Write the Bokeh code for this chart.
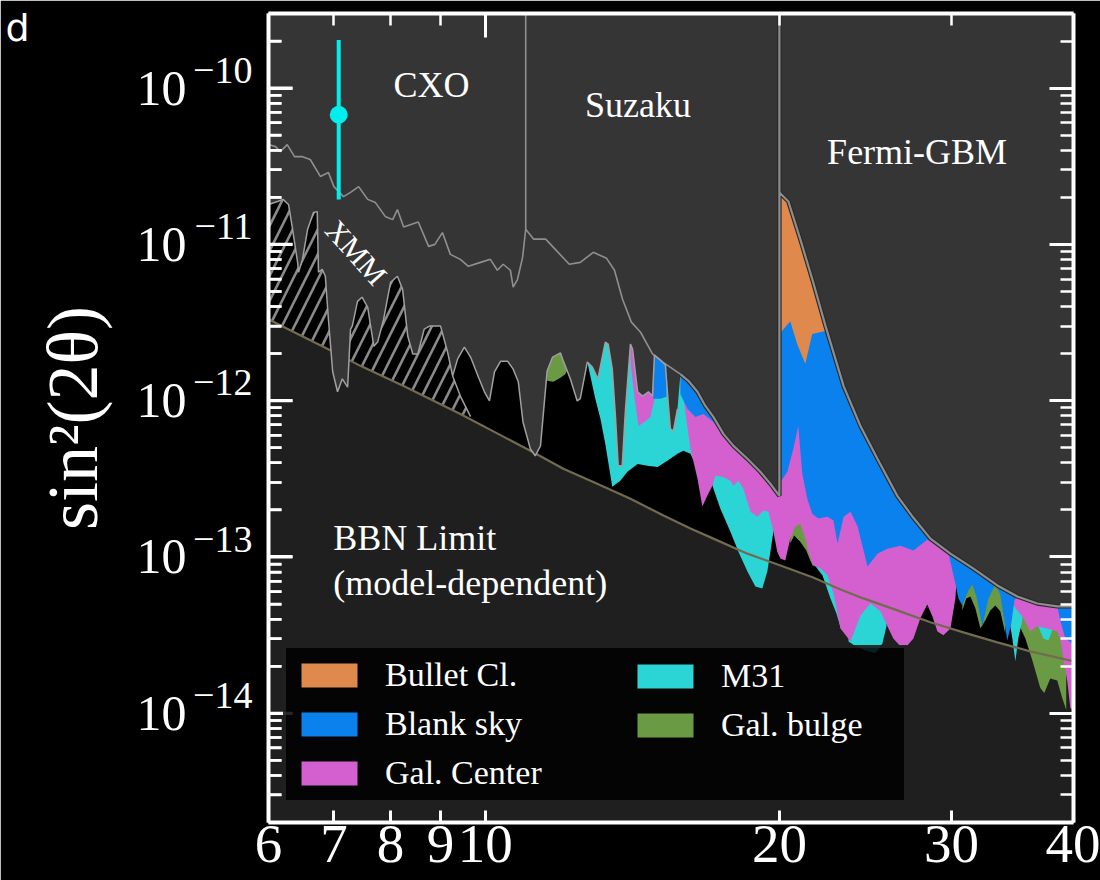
import numpy as np
from bokeh.plotting import figure
from bokeh.models import (Range1d, LogAxis, FixedTicker, CustomJSTickFormatter,
                          Label, Legend, LegendItem)
from bokeh.embed import file_html
from bokeh.resources import INLINE

SERIF = "Liberation Serif"

# ---------------------------------------------------------------------------
# Sterile-neutrino mass m_s [keV] versus mixing sin^2(2 theta)
# ---------------------------------------------------------------------------

# BBN lower bound (model-dependent)
bbn_mass = [6.00, 6.19, 6.90, 7.45, 8.25, 9.43, 11.27, 12.02, 13.02, 14.08, 15.22, 16.22,
            17.12, 18.55, 20.05, 21.66, 23.10, 24.38, 26.41, 28.55, 30.86, 33.43, 36.13, 40.0]
bbn_sin2 = [3.32e-12, 3.00e-12, 2.14e-12, 1.67e-12, 1.24e-12, 8.22e-13, 4.57e-13, 3.67e-13,
            2.94e-13, 2.36e-13, 1.84e-13, 1.52e-13, 1.31e-13, 1.05e-13, 8.82e-14, 7.39e-14,
            6.20e-14, 5.43e-14, 4.55e-14, 3.82e-14, 3.29e-14, 2.84e-14, 2.49e-14, 2.15e-14]

# Chandra (CXO) upper limit
cxo_mass = [6.00, 6.10, 6.17, 6.27, 6.38, 6.50, 6.62, 6.78, 6.91, 7.00, 7.16, 7.28, 7.42,
            7.58, 7.72, 7.90, 8.04, 8.13, 8.25, 8.54, 8.75, 8.88, 9.04, 9.21, 9.43, 9.61,
            9.89, 10.12, 10.29, 10.43, 10.61, 10.68, 10.79, 10.92, 11.00]
cxo_sin2 = [4.35e-11, 4.22e-11, 3.92e-11, 4.35e-11, 3.64e-11, 3.64e-11, 3.49e-11, 2.72e-11,
            2.88e-11, 2.34e-11, 2.02e-11, 2.15e-11, 2.34e-11, 1.94e-11, 1.85e-11, 1.51e-11,
            1.44e-11, 1.67e-11, 1.29e-11, 1.39e-11, 9.71e-12, 1.00e-11, 1.19e-11, 8.63e-12,
            8.02e-12, 7.24e-12, 7.67e-12, 8.02e-12, 6.83e-12, 7.46e-12, 6.83e-12, 5.32e-12,
            5.98e-12, 8.26e-12, 1.25e-11]

# Suzaku upper limit
suz_mass = [11.00, 11.21, 11.53, 12.19, 12.51, 12.90, 13.31, 13.56, 13.82, 14.11, 14.42, 14.83,
            15.18, 15.84, 16.14, 16.49, 16.80, 17.12, 17.53, 17.95, 18.55, 19.12, 19.58, 20.00]
suz_sin2 = [1.25e-11, 1.08e-11, 1.08e-11, 7.46e-12, 7.67e-12, 8.89e-12, 8.14e-12, 6.83e-12,
            4.46e-12, 3.18e-12, 2.74e-12, 1.99e-12, 1.77e-12, 1.48e-12, 1.34e-12, 1.14e-12,
            9.25e-13, 7.87e-13, 6.13e-13, 5.14e-13, 4.25e-13, 3.51e-13, 2.94e-13, 2.46e-13]

# Fermi-GBM upper limit
gbm_mass = [20.00, 20.43, 21.01, 21.66, 22.30, 23.27, 24.21, 25.20, 26.41, 27.43, 28.55,
            29.93, 31.60, 33.43, 35.04, 36.73, 38.50, 40.0]
gbm_sin2 = [2.15e-11, 1.88e-11, 1.08e-11, 5.72e-12, 3.00e-12, 1.24e-12, 6.89e-13, 4.25e-13,
            2.46e-13, 1.78e-13, 1.31e-13, 1.05e-13, 8.43e-14, 6.57e-14, 5.59e-14, 5.04e-14,
            4.83e-14, 4.83e-14]

# XMM line-search limit (lowest X-ray bound below ~16 keV)
xmm_mass = [6.00, 6.13, 6.21, 6.29, 6.35, 6.43, 6.44, 6.50, 6.58, 6.67, 6.73, 6.75, 6.81,
            6.86, 6.91, 6.98, 7.06, 7.14, 7.23, 7.28, 7.31, 7.40, 7.48, 7.58, 7.69, 7.76,
            7.87, 8.00, 8.13, 8.23, 8.33, 8.43, 8.53, 8.66, 8.77, 9.00, 9.15, 9.26, 9.37,
            9.52, 9.66, 9.83, 9.98, 10.10, 10.22, 10.37, 10.54, 10.68, 10.81, 10.93, 11.12,
            11.25, 11.39, 11.57, 11.72, 11.94, 12.02, 12.22, 12.42, 12.51, 12.72, 12.87,
            13.04, 13.27, 13.36, 13.49, 13.59, 13.68, 13.81, 13.91, 14.08, 14.15, 14.32,
            14.49, 14.69, 14.83, 14.90, 15.11, 15.29, 15.40, 15.47, 15.58, 15.73]
xmm_sin2 = [1.80e-11, 1.88e-11, 1.94e-11, 1.80e-11, 1.25e-11, 7.46e-12, 6.63e-12, 8.02e-12,
            1.25e-11, 1.60e-11, 1.62e-11, 6.63e-12, 6.93e-12, 6.25e-12, 3.32e-12, 1.53e-12,
            1.14e-12, 1.38e-12, 1.22e-12, 2.87e-12, 3.00e-12, 4.32e-12, 4.59e-12, 3.96e-12,
            2.23e-12, 2.37e-12, 3.32e-12, 5.72e-12, 6.25e-12, 5.16e-12, 2.59e-12, 1.99e-12,
            1.99e-12, 2.87e-12, 3.00e-12, 3.00e-12, 2.05e-12, 1.44e-12, 1.85e-12, 2.20e-12,
            1.90e-12, 1.44e-12, 1.14e-12, 9.96e-13, 1.53e-12, 1.79e-12, 1.79e-12, 1.59e-12,
            1.32e-12, 7.31e-13, 4.92e-13, 4.44e-13, 5.14e-13, 1.55e-12, 1.90e-12, 2.02e-12,
            1.79e-12, 1.38e-12, 9.96e-13, 1.03e-12, 1.77e-12, 1.64e-12, 1.38e-12, 2.37e-12,
            2.30e-12, 1.59e-12, 7.99e-13, 3.83e-13, 3.83e-13, 8.47e-13, 2.30e-12, 2.14e-12,
            1.14e-12, 1.07e-12, 1.14e-12, 1.07e-12, 1.96e-12, 1.82e-12, 1.69e-12, 9.25e-13,
            6.60e-13, 6.41e-13, 8.85e-13]

# hatched XMM band: its edge leaves the limit above 9.26 keV and drops to BBN
hatch_end_mass = 9.26
hatch_tail_mass = [9.43, 9.66]
hatch_tail_sin2 = [1.07e-12, 7.90e-13]

# Line-search exclusions per target: lower edges of the excluded bands (one list per band)
bullet_mass = [[20.00, 20.52, 20.86, 21.26, 21.61, 22.30, 22.83, 23.37, 24.04]]
bullet_sin2 = [[2.67e-12, 3.22e-12, 2.30e-12, 1.72e-12, 2.67e-12, 2.79e-12, 1.80e-12,
                1.10e-12, 7.10e-13]]

blank_mass = [[14.86, 15.11, 15.33],
              [15.84, 16.11, 16.41, 16.72, 17.12, 17.53],
              [20.00, 20.38, 20.67, 20.91, 21.11, 21.36, 21.61, 21.92, 22.40, 22.72, 22.94,
               23.27, 23.65, 24.04, 24.62, 25.20, 25.80, 26.60, 27.43, 28.34, 29.72, 30.28,
               30.50, 30.78, 31.22, 31.52, 31.82, 32.27, 32.73, 33.27, 33.66, 34.22, 34.55,
               34.80, 35.04, 36.73, 38.50, 38.77, 39.23, 40.0]]
blank_sin2 = [[1.03e-12, 1.03e-12, 1.06e-12],
              [1.10e-12, 8.85e-13, 7.87e-13, 8.22e-13, 7.31e-13, 6.04e-13],
              [2.94e-13, 3.51e-13, 4.92e-13, 6.89e-13, 3.41e-13, 2.36e-13, 1.89e-13, 1.76e-13,
               1.81e-13, 1.71e-13, 1.22e-13, 1.81e-13, 1.95e-13, 1.58e-13, 8.68e-14, 1.05e-13,
               1.13e-13, 1.18e-13, 1.10e-13, 1.29e-13, 1.13e-13, 6.77e-14, 5.43e-14, 4.89e-14,
               6.11e-14, 6.67e-14, 5.59e-14, 3.60e-14, 5.43e-14, 6.67e-14, 5.75e-14, 2.92e-14,
               3.76e-14, 5.27e-14, 5.59e-14, 5.04e-14, 4.83e-14, 3.93e-14, 3.01e-14, 2.76e-14]]

galcen_mass = [[14.05, 14.11, 14.22, 14.35, 14.59, 14.76, 14.90],
               [15.95, 16.11, 16.22, 16.49, 16.68, 16.88, 17.08, 17.20, 17.52, 17.82, 17.95,
                18.16, 18.37, 18.68, 18.99, 19.26, 19.49, 19.72, 19.90, 20.05, 20.28, 20.52,
                20.76, 21.01, 21.26, 21.41, 21.66, 22.04, 22.40, 22.72, 23.10, 23.65, 24.21,
                24.79, 25.38, 25.80, 26.16, 26.60, 27.05, 27.43, 27.88, 28.34, 28.68, 29.03,
                29.44, 29.93, 30.28, 30.50],
               [34.63, 35.04, 35.54, 36.13, 36.73, 37.61, 38.50, 38.77, 39.05, 39.42, 39.70, 40.0]]
galcen_sin2 = [[2.30e-12, 1.59e-12, 1.03e-12, 6.89e-13, 7.42e-13, 7.87e-13, 1.03e-12],
               [1.06e-12, 6.60e-13, 4.92e-13, 3.16e-13, 2.10e-13, 2.47e-13, 2.85e-13, 3.31e-13,
                3.25e-13, 3.07e-13, 2.85e-13, 3.07e-13, 2.73e-13, 1.95e-13, 1.81e-13, 1.98e-13,
                1.95e-13, 1.45e-13, 1.08e-13, 9.77e-14, 9.49e-14, 1.31e-13, 1.56e-13, 1.63e-13,
                1.31e-13, 1.08e-13, 8.82e-14, 8.43e-14, 7.60e-14, 5.84e-14, 3.49e-14, 2.88e-14,
                4.22e-14, 5.04e-14, 4.49e-14, 3.60e-14, 3.01e-14, 2.68e-14, 2.72e-14, 3.01e-14,
                4.05e-14, 4.97e-14, 4.17e-14, 3.34e-14, 3.15e-14, 3.49e-14, 5.43e-14, 1.03e-13],
               [5.04e-14, 4.55e-14, 4.05e-14, 3.34e-14, 3.60e-14, 3.49e-14, 3.34e-14, 3.01e-14,
                2.25e-14, 1.60e-14, 1.08e-14, 1.05e-14]]

m31_mass = [[12.72, 12.96, 13.12, 13.27, 13.49, 13.75, 13.98, 14.32, 14.66, 15.01, 15.36,
             15.73, 15.95, 16.22, 16.34],
            [17.08, 17.40, 17.82, 18.16, 18.55, 18.90, 19.21, 19.44, 19.58, 19.72],
            [21.71, 22.14, 22.56, 22.88, 23.15],
            [23.54, 23.93, 24.50, 25.08, 25.50, 25.74],
            [34.30, 34.63, 34.88, 35.12, 35.46],
            [36.82, 37.25, 37.70, 38.05]]
m31_sin2 = [[1.77e-12, 1.03e-12, 7.64e-13, 5.29e-13, 2.81e-13, 3.07e-13, 3.51e-13, 3.94e-13,
             3.83e-13, 3.77e-13, 4.13e-13, 4.57e-13, 4.78e-13, 4.57e-13, 4.13e-13],
            [2.85e-13, 2.04e-13, 1.45e-13, 1.08e-13, 8.07e-14, 6.48e-14, 6.29e-14, 8.07e-14,
             1.08e-13, 1.45e-13],
            [8.95e-14, 7.60e-14, 5.43e-14, 4.35e-14, 3.39e-14],
            [2.88e-14, 2.68e-14, 2.52e-14, 2.42e-14, 2.80e-14, 3.60e-14],
            [4.35e-14, 3.01e-14, 2.15e-14, 3.01e-14, 3.93e-14],
            [3.59e-14, 3.01e-14, 2.92e-14, 3.39e-14]]

bulge_mass = [[11.57, 11.74, 11.94, 12.08, 12.17],
              [20.52, 20.71, 21.01, 21.31, 21.51, 21.66],
              [30.78, 31.07, 31.37, 31.74, 32.12, 32.50, 32.88, 33.27, 33.66, 34.06],
              [35.12, 35.71, 36.30, 36.99, 37.34, 37.87, 38.50, 38.95, 39.32]]
bulge_sin2 = [[1.34e-12, 1.32e-12, 1.40e-12, 1.48e-12, 1.64e-12],
              [1.22e-13, 1.37e-13, 1.25e-13, 1.10e-13, 9.49e-14, 8.68e-14],
              [4.55e-14, 5.43e-14, 5.59e-14, 4.69e-14, 3.49e-14, 3.93e-14, 4.55e-14, 4.89e-14,
               4.49e-14, 3.24e-14],
              [3.76e-14, 3.01e-14, 2.18e-14, 1.45e-14, 1.35e-14, 1.67e-14, 1.62e-14, 1.25e-14,
               1.05e-14]]

# line candidate seen with CXO
cand_mass = [7.08]
cand_sin2 = [6.75e-11]
cand_low = [1.94e-11]
cand_high = [2.03e-10]

x_ticks = [6, 7, 8, 9, 10, 20, 30, 40]
y_exponents = [-14, -13, -12, -11, -10]

C_EXCL = "#353535"
C_BBN = "#1f1f1f"
C_BULLET = "#e0894c"
C_BLANK = "#0b81ee"
C_GALCEN = "#d45fcf"
C_M31 = "#2bd5d5"
C_BULGE = "#6b9a45"

X_LO, X_HI = 6, 40
Y_LO, Y_HI = 2e-15, 3e-10
TOP, BOT = 1e-9, 1e-17
FRAME_W = 805  # frame width in px, used for tick lengths along the left edge

p = figure(width=1100, height=880, x_axis_type="log", y_axis_type="log",
           x_range=Range1d(X_LO, X_HI), y_range=Range1d(Y_LO, Y_HI),
           output_backend="svg", toolbar_location=None,
           background_fill_color=C_EXCL, border_fill_color="black",
           min_border_left=268, min_border_right=27, min_border_top=13, min_border_bottom=58)
p.outline_line_color = None
p.grid.visible = False

# combined X-ray bound: XMM below 16 keV, then Suzaku, then Fermi-GBM
suz_m = np.array(suz_mass)
suz_s = np.array(suz_sin2)
tail = suz_m >= 15.8
env_m = np.r_[xmm_mass, suz_m[tail], gbm_mass]
env_s = np.r_[xmm_sin2, suz_s[tail], gbm_sin2]

# allowed window (black) and the BBN-excluded floor
p.patch(np.r_[env_m, X_HI, X_LO], np.r_[env_s, BOT, BOT], fill_color="black", line_color=None)
p.patch(np.r_[bbn_mass, X_HI, X_LO], np.r_[bbn_sin2, BOT, BOT], fill_color=C_BBN,
        line_color=None)

# hatched XMM band
xm = np.array(xmm_mass)
xs = np.array(xmm_sin2)
keep = xm <= hatch_end_mass
hatch_m = np.r_[xm[keep], hatch_tail_mass]
hatch_s = np.r_[xs[keep], hatch_tail_sin2]
bm = np.array(bbn_mass)
bs = np.array(bbn_sin2)
bk = bm <= hatch_m[-1]
p.patch(np.r_[hatch_m, bm[bk][::-1]], np.r_[hatch_s, bs[bk][::-1]],
        fill_color="black", line_color=None,
        hatch_pattern="/", hatch_color="#8a8a8a", hatch_weight=2.6, hatch_scale=25)


def bands(mass, sin2):
    """Each band is excluded from its lower edge upwards."""
    bx = [list(m) + [m[-1], m[0]] for m in mass]
    by = [list(s) + [TOP, TOP] for s in sin2]
    return bx, by


r_bulge = p.patches(*bands(bulge_mass, bulge_sin2), fill_color=C_BULGE, line_color=None)
r_m31 = p.patches(*bands(m31_mass, m31_sin2), fill_color=C_M31, line_color=None)
r_galcen = p.patches(*bands(galcen_mass, galcen_sin2), fill_color=C_GALCEN, line_color=None)
r_blank = p.patches(*bands(blank_mass, blank_sin2), fill_color=C_BLANK, line_color=None)
r_bullet = p.patches(*bands(bullet_mass, bullet_sin2), fill_color=C_BULLET, line_color=None)

# BBN limit curve
p.line(bbn_mass, bbn_sin2, line_color="#726b50", line_width=2.2)

# region excluded by the X-ray searches
p.patch(np.r_[env_m, X_HI, X_LO], np.r_[env_s, TOP, TOP], fill_color=C_EXCL, line_color=None)

# limit curves
p.line(cxo_mass, cxo_sin2, line_color="#8f8f8f", line_width=1.6)
p.line(suz_mass, suz_sin2, line_color="#8f8f8f", line_width=1.6)
p.segment(x0=[suz_mass[0]], y0=[suz_sin2[0]], x1=[suz_mass[0]], y1=[TOP],
          line_color="#8f8f8f", line_width=1.6)
low = env_m <= 15.8
p.line(env_m[low], env_s[low], line_color="#a0a0a0", line_width=1.5)
p.line(np.r_[hatch_m[-3:]], np.r_[hatch_s[-3:]], line_color="#a0a0a0", line_width=1.5)

hi = env_m >= 15.8
for col, w in (("#2a2a2a", 4.5), ("#8d8d8d", 2.2)):
    p.line(env_m[hi], env_s[hi], line_color=col, line_width=w)
    p.segment(x0=[gbm_mass[0]], y0=[gbm_sin2[0]], x1=[gbm_mass[0]], y1=[TOP],
              line_color=col, line_width=w)

# CXO candidate with error bar
p.segment(x0=cand_mass, y0=cand_low, x1=cand_mass, y1=cand_high,
          line_color="#00eeee", line_width=4)
p.scatter(cand_mass, cand_sin2, size=18, fill_color="#00eeee", line_color=None)

# region labels
txt = dict(text_font=SERIF, text_color="white", text_font_size="36px")
p.add_layout(Label(x=8.81, y=7.82e-11, text="CXO", text_align="center", **txt))
p.add_layout(Label(x=14.33, y=5.83e-11, text="Suzaku", text_align="center", **txt))
p.add_layout(Label(x=27.67, y=2.92e-11, text="Fermi-GBM", text_align="center", **txt))
p.add_layout(Label(x=6.99, y=9.91e-14, text="BBN Limit", text_align="left", **txt))
p.add_layout(Label(x=6.99, y=5.04e-14, text="(model-dependent)", text_align="left", **txt))
p.add_layout(Label(x=7.38, y=8.89e-12, text="XMM", text_align="center",
                   text_baseline="middle", angle=-0.84, text_font=SERIF,
                   text_color="white", text_font_size="30px"))


# axes: white frame with inward ticks on all four sides
def style_axis(ax, major_len, minor_len):
    ax.axis_line_color = "white"
    ax.axis_line_width = 4
    ax.major_tick_line_color = "white"
    ax.minor_tick_line_color = "white"
    ax.major_tick_line_width = 3
    ax.minor_tick_line_width = 2.5
    ax.major_tick_in = major_len
    ax.major_tick_out = 0
    ax.minor_tick_in = minor_len
    ax.minor_tick_out = 0


def text_axis(ticks, code, font, size, standoff):
    """An axis that only carries text (no rule, no ticks)."""
    ax = LogAxis(ticker=FixedTicker(ticks=ticks, minor_ticks=[]),
                 formatter=CustomJSTickFormatter(code=code),
                 major_label_text_font=font, major_label_text_font_size=size,
                 major_label_text_color="white", major_label_standoff=standoff)
    ax.axis_line_color = None
    ax.major_tick_in = 0
    ax.major_tick_out = 0
    ax.minor_tick_in = 0
    ax.minor_tick_out = 0
    return ax


blank_fmt = "return '';"
y_major = [10.0 ** e for e in y_exponents]
y_minor = [k * 10.0 ** e for e in range(-15, -9) for k in range(2, 10)]
y_minor = [t for t in y_minor if Y_LO <= t <= Y_HI]
# exponents sit a little above the decade they belong to
expo_lift = 1.30

# inward tick marks along the left edge of the frame
step = (X_HI / X_LO) ** (1.0 / FRAME_W)
p.segment(x0=[X_LO] * len(y_major), y0=y_major, x1=[X_LO * step ** 24] * len(y_major),
          y1=y_major, line_color="white", line_width=3)
p.segment(x0=[X_LO] * len(y_minor), y0=y_minor, x1=[X_LO * step ** 13] * len(y_minor),
          y1=y_minor, line_color="white", line_width=2.5)

xa = p.xaxis[0]
xa.ticker = FixedTicker(ticks=x_ticks, minor_ticks=[])
xa.formatter = CustomJSTickFormatter(code="return Math.round(tick).toString();")
xa.major_label_text_font = SERIF
xa.major_label_text_font_size = "55px"
xa.major_label_text_color = "white"
xa.major_label_standoff = 3
style_axis(xa, 12, 12)

# left: frame rule
ya = p.yaxis[0]
ya.ticker = FixedTicker(ticks=y_major, minor_ticks=y_minor)
ya.formatter = CustomJSTickFormatter(code=blank_fmt)
ya.major_label_text_font_size = "0px"
ya.major_label_standoff = 4
style_axis(ya, 24, 13)

# left: decade labels written as 10 with a raised exponent
expo_axis = text_axis([t * expo_lift for t in y_major],
                      "return '\\u2212' + (-Math.floor(Math.log10(tick)));",
                      SERIF, "38px", 16)
p.add_layout(expo_axis, "left")

base_axis = text_axis(y_major, "return '10';", SERIF, "50px", 4)
base_axis.axis_label = "sin\u00b2(2\u03b8)"
base_axis.axis_label_text_font = SERIF
base_axis.axis_label_text_font_style = "normal"
base_axis.axis_label_text_font_size = "72px"
base_axis.axis_label_text_color = "white"
base_axis.axis_label_standoff = 21
p.add_layout(base_axis, "left")

# panel letter, top-left corner
panel_tag = text_axis([2.85e-10], "return 'd';", "DejaVu Sans", "38px", 0)
p.add_layout(panel_tag, "left")

top_ax = LogAxis(ticker=FixedTicker(ticks=[10], minor_ticks=[6, 7, 8, 9, 20, 30, 40]),
                 formatter=CustomJSTickFormatter(code=blank_fmt),
                 major_label_text_font_size="0px", major_label_standoff=0)
style_axis(top_ax, 24, 12)
p.add_layout(top_ax, "above")

right_ax = LogAxis(ticker=FixedTicker(ticks=y_major, minor_ticks=y_minor),
                   formatter=CustomJSTickFormatter(code=blank_fmt),
                   major_label_text_font_size="0px", major_label_standoff=0)
style_axis(right_ax, 24, 13)
p.add_layout(right_ax, "right")

# legend in two columns
common = dict(label_text_font=SERIF, label_text_font_size="34px", label_text_color="white",
              glyph_width=70, glyph_height=30, label_standoff=21, padding=8, spacing=11,
              margin=0)
leg1 = Legend(items=[LegendItem(label="Bullet Cl.", renderers=[r_bullet]),
                     LegendItem(label="Blank sky", renderers=[r_blank]),
                     LegendItem(label="Gal. Center", renderers=[r_galcen])],
              location=(15, 19), background_fill_color="black", background_fill_alpha=0.85,
              border_line_color="#3a3a3a", border_line_width=3, label_width=511, **common)
leg2 = Legend(items=[LegendItem(label="M31", renderers=[r_m31]),
                     LegendItem(label="Gal. bulge", renderers=[r_bulge])],
              location=(362, 78), background_fill_alpha=0, border_line_color=None, **common)
p.add_layout(leg1)
p.add_layout(leg2)

open("out.html", "w").write(file_html(p, INLINE))
